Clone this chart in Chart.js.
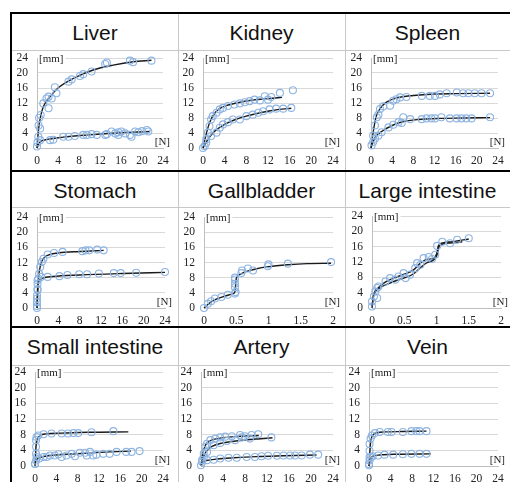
<!DOCTYPE html>
<html>
<head>
<meta charset="utf-8">
<script src="https://cdn.jsdelivr.net/npm/chart.js@4.4.1/dist/chart.umd.min.js"></script>
<style>
  body { margin: 0; background: #fff; width: 510px; height: 482px; overflow: hidden; position: relative; }
  canvas { position: absolute; }
  .line { position: absolute; }
  .thick { background: #000; }
  .thin { background: #c8c8c8; }
  .title { position: absolute; text-align: center; font: 21px "Liberation Sans", Arial, sans-serif; line-height: 24px; color: #111; }
</style>
</head>
<body>
<script>
// ---- data: [force N, displacement mm] ----
const liverPtsA = [[0,0.4],[0.1,1.5],[0.25,3],[0.3,6],[0.6,5.2],[0.4,8],[0.7,8.8],[1.2,11.9],[1.8,13.2],[2.2,13.7],[2.2,10.6],[2.8,13.2],[3.4,16.2],[3.7,14.6],[6,17.7],[6.6,18.3],[8.2,19.2],[8.8,19.7],[10.4,20.4],[13,22.4],[13.3,22.8],[17.7,23.3],[18.3,22.9],[21.8,23.3]];
const liverFitA = [[0,0],[0.3,5],[0.7,8.5],[1.2,11],[2.5,13.7],[4,16],[7,18.6],[10.7,20.8],[14.5,22.1],[18.3,23],[21.8,23.4]];
const liverPtsB = [[0.6,2.1],[2.5,2.1],[3.1,2.2],[5,3],[6,3],[7.2,3.2],[8.8,3.5],[9.5,3.5],[10.4,3.7],[11.4,3.5],[13,3.5],[13.3,3.7],[14.2,4.4],[14.9,3.9],[15.5,4.2],[15.5,3.5],[16.1,4.4],[16.8,3.9],[17.7,3.5],[18,3],[18.7,4.4],[19.3,4.2],[20,4.5],[20.9,4.8],[21.2,4.4]];
const liverFitB = [[0,0],[0.5,1.5],[2,2.3],[5,2.9],[10,3.5],[15,4],[21.5,4.4]];

const kidneyPtsA = [[0.3,0.5],[0.6,2.3],[0.9,4.1],[1.2,5.8],[1.5,7.6],[1.8,8.5],[2.5,9.4],[3.1,10.3],[3.7,10.7],[4.6,11.2],[5.8,11.6],[6.8,11.9],[7.7,12.2],[8.6,12.5],[9.5,12.9],[10.5,12.7],[11.4,13.8],[12,12.9],[12.6,13.6],[14.2,14.7],[16.6,15.4]];
const kidneyFitA = [[0,0],[0.5,3.2],[1.2,6.7],[2.2,9.4],[3.7,11],[6.2,12],[9.2,12.8],[12.3,13.2],[14.6,13.5]];
const kidneyPtsB = [[0,0],[0.6,1.4],[1.5,3.2],[2.5,4.1],[3.1,5.4],[3.7,6.3],[4.6,6.9],[5.5,7.6],[6.8,7.6],[8,8.5],[9.2,8.9],[10.2,9.4],[11.1,9.8],[12.3,10.3],[13.5,10.5],[14.8,10.5],[16.3,10.7]];
const kidneyFitB = [[0,0],[1,2.5],[2,4.3],[4,6.3],[6,7.6],[8,8.5],[10,9.2],[12,9.8],[14,10.3],[16.3,10.6]];

const spleenPtsA = [[0.1,0.7],[0.4,3.3],[0.75,6],[1.1,8.2],[1.4,8.9],[1.7,10.4],[2.3,11.1],[3.6,11.3],[4.2,12.6],[4.8,13],[5.5,13.5],[6.7,13.6],[9.6,13.9],[11.1,13.9],[12.1,13.9],[13,14.3],[14.3,14.6],[16.2,14.8],[17.4,14.6],[18.4,14.6],[19.6,14.6],[20.9,14.6],[22.5,14.6]];
const spleenFitA = [[0,0],[0.5,5],[1,8.5],[2,11],[3,12.3],[5,13.4],[8,14],[12,14.4],[16,14.5],[22.5,14.6]];
const spleenPtsB = [[0.4,1.6],[0.75,2.5],[1.4,3.3],[2,4.2],[3.3,5.5],[4.2,6.2],[5.2,6.9],[5.8,6.7],[6.1,8.2],[7.4,7.7],[9.6,7.7],[10.5,7.9],[11.4,7.9],[12.1,7.9],[13.3,8.2],[14.9,7.9],[16.2,7.9],[17.1,7.9],[18,7.9],[19,7.9],[22.5,8.2]];
const spleenFitB = [[0,0],[0.5,2],[1,3.2],[2,4.4],[4,6],[6,7],[9,7.6],[13,7.9],[17,8],[22.5,8.1]];

const stomachPtsA = [[0,0],[0,1.5],[0,3.3],[0.1,5],[0.1,7.3],[0.4,9],[0.6,10.8],[0.9,12.1],[1.2,13],[2,14.1],[3.2,14.5],[4.8,14.8],[8.5,15],[9.1,15.2],[9.8,15.2],[11.3,15.4],[12.5,15.2]];
const stomachFitA = [[0,0],[0.3,8],[0.7,11.5],[1.2,13],[2,13.9],[4,14.5],[8,14.9],[12.5,15.2]];
const stomachPtsB = [[0,0.5],[0,2.5],[0.1,4.7],[0.1,6.4],[0.25,7.7],[0.75,8.2],[2,8.2],[4.2,8.4],[5.7,8.7],[7.9,8.9],[9.4,8.9],[11.6,9.1],[14.4,9.2],[15.7,9.2],[18.6,9.3],[24,9.5]];
const stomachFitB = [[0,0],[0.1,5],[0.3,6.8],[1,7.8],[3,8.3],[8,8.7],[16,9.1],[24,9.4]];

const gallPts = [[0,0],[0.06,1.1],[0.11,1.8],[0.17,2.5],[0.27,2.9],[0.37,3.5],[0.48,3.8],[0.49,4.2],[0.48,5.5],[0.48,6.4],[0.48,7.5],[0.48,8],[0.58,9.2],[0.59,9.9],[0.68,10.4],[0.76,9.9],[0.99,11],[1,11.5],[1.3,11.7],[1.97,12.1]];
const gallFit = [[0,0],[0.1,1.5],[0.2,2.4],[0.3,3],[0.45,3.8],[0.48,4.3],[0.49,6],[0.5,7.8],[0.55,8.8],[0.65,9.6],[0.8,10.3],[1,10.9],[1.3,11.4],[1.6,11.7],[1.97,11.8]];

const largePts = [[0,0.4],[0,1.7],[0.03,3],[0.05,4.3],[0.08,5.2],[0.1,5.6],[0.08,2.6],[0.21,6.9],[0.28,7.8],[0.36,7.4],[0.41,8.2],[0.49,9.1],[0.52,7.8],[0.59,8.7],[0.67,10.4],[0.7,11.7],[0.75,11.3],[0.8,13],[0.88,13.3],[0.93,12.8],[0.98,13.9],[1.01,16.2],[1.09,17.3],[1.21,16.9],[1.32,17.8],[1.5,18.2]];
const largeFitA = [[0,0],[0.02,3],[0.1,5.3],[0.2,6.7],[0.35,7.9],[0.5,8.8],[0.65,10],[0.75,11.7],[0.85,12.7],[0.95,12.9],[1,14],[1.03,16.3],[1.1,17],[1.25,17.3],[1.5,18]];
const largeFitB = [[0,0.5],[0.03,3.5],[0.1,5],[0.25,6.3],[0.4,7.3],[0.55,8.1],[0.65,9],[0.75,10.5],[0.85,11.8],[0.95,12.5],[1,13.5],[1.04,16],[1.1,16.7],[1.25,17],[1.4,17.3]];

const smallPtsA = [[0,0.5],[0.2,3.1],[0.2,4.9],[0.2,6.6],[0.3,7.4],[0.6,7.8],[1.6,8.1],[3.1,8.3],[5,8.3],[6.2,8.3],[7.2,8.4],[8.1,8.4],[10.6,8.6],[14.7,8.9]];
const smallFitA = [[0,0],[0.2,5],[0.5,7],[1,7.8],[2,8.2],[5,8.4],[10,8.6],[17.5,8.7]];
const smallPtsB = [[0,0.6],[0.2,1.4],[0.3,2.3],[0.8,1.9],[1.6,2.3],[2.2,2.3],[2.8,2.7],[3.7,2.7],[4.4,3],[5,2.3],[5.9,2.7],[6.9,3.1],[7.5,2.5],[8.4,3.4],[9.4,3.4],[9.7,2.7],[10.3,3.6],[10.9,2.7],[11.5,2.9],[12.8,3.1],[14,3.1],[15.3,3.6],[17.1,3.6],[18.1,3.6],[19.6,3.8]];
const smallFitB = [[0,0.5],[0.3,1.6],[1,2.2],[3,2.7],[6,3],[10,3.3],[14,3.6],[18,3.8]];

const arteryPtsA = [[0.5,3.2],[0.8,4.9],[1.1,5.7],[1.7,6.6],[2.6,7],[3.5,7.3],[4.4,7.5],[5.6,7.6],[7.1,7.9],[8,7.6],[9.2,7.9],[10.4,8.1]];
const arteryFitA = [[0,0],[0.3,3],[0.8,5.3],[1.5,6.3],[3,7],[6,7.5],[10.5,7.8]];
const arteryPtsB = [[0.2,1.5],[0.5,2.3],[1.1,3.6],[2.3,5.3],[3.5,5.9],[4.7,6.4],[6.2,6.6],[7.4,7.3],[8.9,7],[12.8,7.3]];
const arteryFitB = [[0,0],[0.5,2.5],[1,3.8],[2,5],[4,5.9],[7,6.5],[10,6.9],[13,7.2]];
const arteryPtsC = [[0,0.2],[0.2,1],[1.1,1.5],[2.3,1.6],[3.5,1.9],[5,2.1],[6.5,2.1],[8.3,2.3],[9.8,2.3],[11,2.5],[12.2,2.6],[13.8,2.6],[15,2.7],[16.2,2.7],[17.1,2.7],[18.3,2.7],[19.8,2.9],[21.3,2.9]];
const arteryFitC = [[0,0],[0.3,1],[1,1.4],[3,1.8],[6,2.1],[10,2.4],[15,2.6],[21,2.8]];

const veinPtsA = [[0,0.5],[0.1,2.2],[0.1,3.9],[0.1,5.6],[0.3,7],[0.55,7.8],[1.1,8.4],[2,8.7],[3.5,8.7],[4.2,8.7],[6.3,8.7],[7.9,8.9],[8.8,8.9],[9.4,8.9],[10.7,8.9]];
const veinFitA = [[0,0],[0.3,6],[0.7,7.8],[1.5,8.5],[3,8.7],[6,8.8],[10.7,8.9]];
const veinPtsB = [[0,0.2],[0.1,1.4],[0.4,2.3],[0.7,2.5],[1.7,2.7],[2.9,2.9],[4.5,2.9],[6.3,3],[7.9,3.1],[9.4,3.1],[10.7,3.1]];
const veinFitB = [[0,0],[0.3,1.8],[0.8,2.5],[2,2.8],[5,3],[11.5,3.1]];

const titles = ["Liver", "Kidney", "Spleen", "Stomach", "Gallbladder", "Large intestine", "Small intestine", "Artery", "Vein"];
const pointSets = [[liverPtsA, liverPtsB], [kidneyPtsA, kidneyPtsB], [spleenPtsA, spleenPtsB],
  [stomachPtsA, stomachPtsB], [gallPts], [largePts],
  [smallPtsA, smallPtsB], [arteryPtsA, arteryPtsB, arteryPtsC], [veinPtsA, veinPtsB]];
const fitSets = [[liverFitA, liverFitB], [kidneyFitA, kidneyFitB], [spleenFitA, spleenFitB],
  [stomachFitA, stomachFitB], [gallFit], [largeFitA, largeFitB],
  [smallFitA, smallFitB], [arteryFitA, arteryFitB, arteryFitC], [veinFitA, veinFitB]];
const xMaxes = [24, 24, 24, 24, 2, 2, 24, 24, 24];

// ---- page layout (table cells and plot boxes in page pixels) ----
const colX = [12, 178, 345, 510];
const rowTop = [13, 171, 327];
const chartY = [[50, 171], [207, 327], [365, 492]];
const plotBoxes = [
  [37, 58, 163, 148], [203, 58, 333, 148], [371, 58, 498, 148],
  [37, 217, 165, 308], [204, 217, 333, 308], [372, 216, 501, 308],
  [35, 372, 163, 466], [201, 372, 333, 466], [369, 372, 498, 466]
];

function addDiv(cls, l, t, w, h, text) {
  const d = document.createElement("div");
  d.className = cls;
  d.style.left = l + "px"; d.style.top = t + "px";
  d.style.width = w + "px"; d.style.height = h + "px";
  if (text) d.textContent = text;
  document.body.appendChild(d);
  return d;
}

const unitLabels = {
  id: "unitLabels",
  beforeDatasetsDraw(chart) {
    const { ctx, chartArea: a } = chart;
    ctx.save();
    ctx.font = '11px "Liberation Serif"';
    ctx.textBaseline = "middle";
    const w = ctx.measureText("[mm]").width;
    ctx.fillStyle = "#fff";
    ctx.fillRect(a.left + 1, a.top - 5, w + 3, 11);
    ctx.fillStyle = "#222";
    ctx.fillText("[mm]", a.left + 2, a.top + 1);
    ctx.textAlign = "right";
    ctx.fillText("[N]", a.right + 7, a.bottom - 6);
    ctx.restore();
  }
};

const toXY = (arr) => arr.map(p => ({ x: p[0], y: p[1] }));

titles.forEach((title, i) => {
  const col = i % 3, row = Math.floor(i / 3);
  const cellL = colX[col], cellR = colX[col + 1];
  const [cellT, cellB] = chartY[row];
  const [pl, pt, pr, pb] = plotBoxes[i];
  const cw = cellR - cellL, ch = cellB - cellT;

  addDiv("title", cellL, rowTop[row] + 8, cw, 26, title);

  const canvas = document.createElement("canvas");
  canvas.width = cw; canvas.height = ch;
  canvas.style.left = cellL + "px"; canvas.style.top = cellT + "px";
  document.body.appendChild(canvas);

  const yW = 22, xH = 18;
  const datasets = [];
  pointSets[i].forEach(s => datasets.push({
    data: toXY(s), showLine: false, clip: false,
    pointRadius: 3.5, pointBorderWidth: 1.1,
    pointBorderColor: "#8db4e2", pointBackgroundColor: "rgba(255,255,255,0)"
  }));
  fitSets[i].forEach(s => datasets.push({
    data: toXY(s), showLine: true, clip: false, pointRadius: 0,
    borderColor: "#1a1a1a", borderWidth: 1.4, cubicInterpolationMode: "monotone"
  }));

  const tickFont = { family: '"Liberation Serif", "Times New Roman", serif', size: 11.5 };
  new Chart(canvas, {
    type: "scatter",
    data: { datasets: datasets },
    plugins: [unitLabels],
    options: {
      responsive: false, animation: false, devicePixelRatio: 1,
      layout: { padding: { left: pl - cellL - yW, top: pt - cellT, right: cellR - pr, bottom: cellB - pb - xH } },
      plugins: { legend: { display: false }, tooltip: { enabled: false } },
      scales: {
        x: {
          min: 0, max: xMaxes[i],
          afterFit: (s) => { s.height = xH; s.paddingLeft = 0; s.paddingRight = 0; },
          ticks: { stepSize: xMaxes[i] === 2 ? 0.5 : 4, font: tickFont, color: "#222", padding: 6, maxRotation: 0, autoSkip: false,
                   callback: (v) => String(Number(v)) },
          grid: { display: false, drawTicks: false },
          border: { color: "#bfbfbf" }
        },
        y: {
          min: 0, max: 24,
          afterFit: (s) => { s.width = yW; s.paddingTop = 0; s.paddingBottom = 0; },
          ticks: { stepSize: 4, font: tickFont, color: "#222", padding: 9, autoSkip: false },
          grid: { color: "#d9d9d9", drawTicks: false },
          border: { color: "#bfbfbf" }
        }
      }
    }
  });
});

// table borders
addDiv("line thin", colX[1], 13, 1, 480);
addDiv("line thin", colX[2], 13, 1, 480);
[50, 207, 365].forEach(y => addDiv("line thin", 12, y, 500, 1));
addDiv("line thick", 10, 12, 502, 2);
addDiv("line thick", 10, 170, 502, 2);
addDiv("line thick", 10, 326, 502, 2);
addDiv("line thick", 10, 12, 2, 472);
</script>
</body>
</html>
